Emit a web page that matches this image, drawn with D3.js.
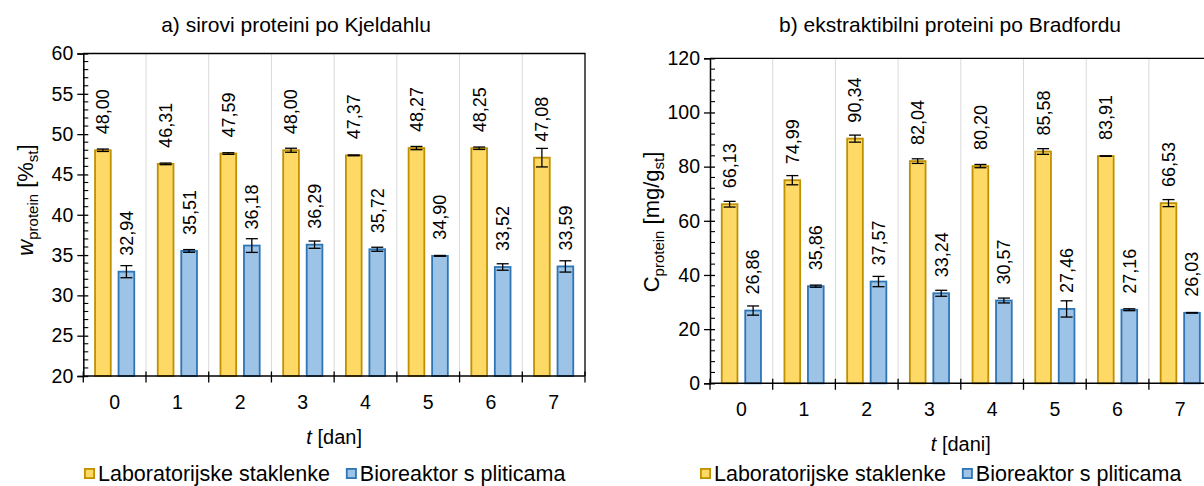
<!DOCTYPE html>
<html>
<head>
<meta charset="utf-8">
<script src="https://cdn.jsdelivr.net/npm/d3@7"></script>
<style>
  html, body { margin: 0; padding: 0; background: #fff; }
  svg { display: block; font-family: "Liberation Sans", Arial, sans-serif; }
</style>
</head>
<body>
<svg id="chart" width="1204" height="486"></svg>
<script>
// Sampling days
const days = ["0", "1", "2", "3", "4", "5", "6", "7"];
const seriesNames = ["Laboratorijske staklenke", "Bioreaktor s pliticama"];

// a) crude protein, Kjeldahl [%]
const kjeldahlJars = [48.00, 46.31, 47.59, 48.00, 47.37, 48.27, 48.25, 47.08];
const kjeldahlJarsErr = [0.15, 0.10, 0.10, 0.25, 0.05, 0.20, 0.15, 1.15];
const kjeldahlReactor = [32.94, 35.51, 36.18, 36.29, 35.72, 34.90, 33.52, 33.59];
const kjeldahlReactorErr = [0.75, 0.17, 0.85, 0.45, 0.25, 0.05, 0.40, 0.70];
const kjeldahlTicks = [20, 25, 30, 35, 40, 45, 50, 55, 60];

// b) extractable protein, Bradford [mg/g]
const bradfordJars = [66.13, 74.99, 90.34, 82.04, 80.20, 85.58, 83.91, 66.53];
const bradfordJarsErr = [1.05, 1.70, 1.30, 0.85, 0.60, 1.05, 0.10, 1.30];
const bradfordReactor = [26.86, 35.86, 37.57, 33.24, 30.57, 27.46, 27.16, 26.03];
const bradfordReactorErr = [1.70, 0.40, 1.90, 1.10, 0.90, 3.00, 0.35, 0.10];
const bradfordTicks = [0, 20, 40, 60, 80, 100, 120];

const fills = ["#FFD966", "#9DC3E6"];
const strokes = ["#BF9000", "#2E75B6"];

const locale = d3.formatLocale({ decimal: ",", thousands: ".", grouping: [3], currency: ["", ""] });
const fmt = locale.format(".2f");

const svg = d3.select("#chart");

function drawPanel(cfg) {
  const g = svg.append("g");
  const x = d3.scaleBand().domain(days).range([cfg.left, cfg.right]);
  const bw = x.bandwidth();
  const inner = d3.scaleBand().domain([0, 1])
    .range([bw * 0.173, bw * 0.827]).paddingInner(0.255);
  const y = d3.scaleLinear().domain(cfg.domain).range([cfg.bottom, cfg.top]);

  // vertical category gridlines
  g.append("g").selectAll("line")
    .data(days.slice(1))
    .join("line")
    .attr("x1", d => x(d)).attr("x2", d => x(d))
    .attr("y1", cfg.top).attr("y2", cfg.bottom)
    .attr("stroke", "#D9D9D9").attr("stroke-width", 1);

  const series = [
    { vals: cfg.a, errs: cfg.aErr },
    { vals: cfg.b, errs: cfg.bErr }
  ];
  const sw = 1.8;

  series.forEach((s, i) => {
    const cx = d => x(days[d]) + inner(i) + inner.bandwidth() / 2;
    const idx = d3.range(days.length);
    g.append("g").selectAll("rect")
      .data(idx)
      .join("rect")
      .attr("x", d => x(days[d]) + inner(i) + sw / 2)
      .attr("width", inner.bandwidth() - sw)
      .attr("y", d => y(s.vals[d]))
      .attr("height", d => y(cfg.domain[0]) - y(s.vals[d]))
      .attr("fill", fills[i])
      .attr("stroke", strokes[i])
      .attr("stroke-width", sw);

    // error bars
    const eb = g.append("g").attr("stroke", "#000").attr("stroke-width", 1.3);
    idx.forEach(d => {
      const c = cx(d);
      const hi = y(s.vals[d] + s.errs[d]);
      const lo = y(s.vals[d] - s.errs[d]);
      eb.append("line").attr("x1", c).attr("x2", c).attr("y1", hi).attr("y2", lo);
      eb.append("line").attr("x1", c - 6).attr("x2", c + 6).attr("y1", hi).attr("y2", hi);
      eb.append("line").attr("x1", c - 6).attr("x2", c + 6).attr("y1", lo).attr("y2", lo);
    });

    // value labels
    g.append("g").selectAll("text")
      .data(idx)
      .join("text")
      .attr("transform", d => `translate(${cx(d) + 6.4},${y(s.vals[d]) - 16}) rotate(-90)`)
      .attr("font-size", 18)
      .attr("fill", "#000")
      .text(d => fmt(s.vals[d]));
  });

  // plot frame (top and right)
  g.append("path")
    .attr("d", `M${cfg.left},${cfg.top}H${cfg.right}V${cfg.bottom}`)
    .attr("fill", "none").attr("stroke", "#000").attr("stroke-width", 1.3);

  // y axis
  const yAxis = d3.axisLeft(y).tickValues(cfg.ticks).tickSize(6).tickPadding(4)
    .tickFormat(d3.format("d"));
  const ya = g.append("g").attr("transform", `translate(${cfg.left},0)`).call(yAxis);
  ya.select(".domain").attr("stroke", "#000").attr("stroke-width", 1.5);
  ya.selectAll(".tick line").attr("x2", -6).attr("x1", 5).attr("stroke", "#000").attr("stroke-width", 1.3);
  ya.selectAll(".tick text").attr("font-size", 19.5).attr("fill", "#000")
    .attr("font-family", "Liberation Sans, Arial, sans-serif").attr("x", -10);
  // minor ticks
  const minors = d3.range(cfg.domain[0], cfg.domain[1] + 1e-9, cfg.minor)
    .filter(v => !cfg.ticks.includes(v));
  g.append("g").selectAll("line").data(minors).join("line")
    .attr("x1", cfg.left).attr("x2", cfg.left + 5)
    .attr("y1", d => y(d)).attr("y2", d => y(d))
    .attr("stroke", "#000").attr("stroke-width", 1.1);

  // x axis
  const xTicks = d3.scaleLinear().domain([0, days.length]).range([cfg.left, cfg.right]);
  const xa = g.append("g");
  xa.append("line").attr("x1", cfg.left).attr("x2", cfg.right)
    .attr("y1", cfg.bottom).attr("y2", cfg.bottom)
    .attr("stroke", "#000").attr("stroke-width", 1.5);
  xa.selectAll("line.tk").data(d3.range(days.length + 1)).join("line")
    .attr("class", "tk")
    .attr("x1", d => xTicks(d)).attr("x2", d => xTicks(d))
    .attr("y1", cfg.bottom - 4.5).attr("y2", cfg.bottom + 6.5)
    .attr("stroke", "#000").attr("stroke-width", 1.3);
  xa.selectAll("text").data(days).join("text")
    .attr("x", d => x(d) + bw / 2)
    .attr("y", cfg.bottom + 32.5)
    .attr("text-anchor", "middle")
    .attr("font-size", 19.5)
    .text(d => d);

  // x axis title
  const xt = g.append("text")
    .attr("x", (cfg.left + cfg.right) / 2)
    .attr("y", cfg.bottom + 68)
    .attr("text-anchor", "middle")
    .attr("font-size", 20);
  xt.append("tspan").attr("font-style", "italic").text("t");
  xt.append("tspan").text(" " + cfg.xTitle);

  // y axis title
  const yt = g.append("text")
    .attr("transform", `translate(${cfg.yTitleX},${cfg.yTitleY}) rotate(-90)`)
    .attr("text-anchor", "middle")
    .attr("font-size", 22);
  yt.append("tspan").attr("font-style", cfg.yItalic ? "italic" : "normal").text(cfg.ySym);
  yt.append("tspan").attr("font-size", 15).attr("dy", 5).text("protein");
  yt.append("tspan").attr("dy", -5).text(" [" + cfg.yUnit);
  yt.append("tspan").attr("font-size", 15).attr("dy", 5).text("st");
  yt.append("tspan").attr("dy", -5).text("]");

  // chart title
  g.append("text")
    .attr("x", cfg.titleX).attr("y", 31.5)
    .attr("text-anchor", "middle")
    .attr("font-size", 21)
    .text(cfg.title);

  // legend
  const lg = g.append("g").attr("transform", `translate(${cfg.legendX},${cfg.legendY})`);
  let off = 0;
  seriesNames.forEach((name, i) => {
    lg.append("rect")
      .attr("x", off + 0.9).attr("y", -5.5 + 0.9)
      .attr("width", 9.2).attr("height", 9.2)
      .attr("fill", fills[i]).attr("stroke", strokes[i]).attr("stroke-width", 1.8);
    const t = lg.append("text")
      .attr("x", off + 14).attr("y", 7.5)
      .attr("font-size", 21.5)
      .text(name);
    off += 14 + t.node().getComputedTextLength() + 16;
  });
}

drawPanel({
  left: 83.3, right: 585, top: 53.5, bottom: 376,
  domain: [20, 60], ticks: kjeldahlTicks, minor: 1,
  a: kjeldahlJars, aErr: kjeldahlJarsErr, b: kjeldahlReactor, bErr: kjeldahlReactorErr,
  title: "a) sirovi proteini po Kjeldahlu", titleX: 296,
  xTitle: "[dan]", ySym: "w", yItalic: true, yUnit: "%", yTitleX: 33, yTitleY: 200,
  legendX: 84, legendY: 473.5
});

drawPanel({
  left: 710, right: 1211.6, top: 58.3, bottom: 383.3,
  domain: [0, 120], ticks: bradfordTicks, minor: 4,
  a: bradfordJars, aErr: bradfordJarsErr, b: bradfordReactor, bErr: bradfordReactorErr,
  title: "b) ekstraktibilni proteini po Bradfordu", titleX: 950,
  xTitle: "[dani]", ySym: "C", yItalic: false, yUnit: "mg/g", yTitleX: 659, yTitleY: 222,
  legendX: 700, legendY: 473.5
});
</script>
</body>
</html>
